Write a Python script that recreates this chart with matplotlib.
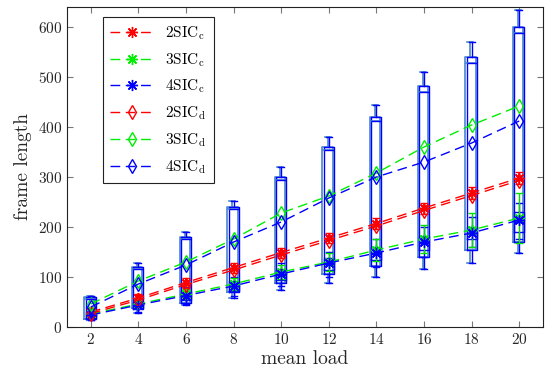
import numpy as np
import matplotlib
matplotlib.use('Agg')
import matplotlib.pyplot as plt

plt.rcParams['font.family'] = 'serif'
plt.rcParams['font.serif'] = ['cmr10', 'DejaVu Serif']
plt.rcParams['mathtext.fontset'] = 'cm'
plt.rcParams['axes.formatter.use_mathtext'] = True

# mean load values
loads = [2, 4, 6, 8, 10, 12, 14, 16, 18, 20]

# mean frame length per scheme
sic2_c = [30, 58, 89, 119, 149, 178, 207, 238, 268, 298]
sic3_c = [26, 46, 66, 86, 110, 130, 154, 176, 194, 218]
sic4_c = [24, 44, 63, 82, 106, 128, 148, 170, 188, 214]
sic2_d = [27, 54, 85, 114, 144, 173, 202, 233, 263, 293]
sic3_d = [46, 92, 130, 176, 228, 262, 308, 360, 404, 442]
sic4_d = [40, 86, 124, 170, 210, 258, 300, 330, 368, 412]

# spread of the frame length (outer boxes)
box_wlo = [14, 28, 44, 58, 74, 88, 100, 116, 128, 148]
box_q1 = [16, 38, 48, 70, 88, 106, 122, 140, 154, 170]
box_med = [57, 116, 176, 236, 294, 354, 412, 470, 528, 588]
box_q3 = [60, 120, 180, 240, 300, 360, 420, 482, 540, 600]
box_whi = [63, 128, 190, 252, 320, 380, 444, 510, 570, 634]

# spread of the centralized schemes (inner boxes)
inner_q1 = [18, 36, 54, 72, 94, 114, 134, 154, 176, 190]
inner_q3 = [30, 50, 72, 92, 116, 138, 160, 182, 200, 230]
inner_wlo = [14, 30, 46, 62, 82, 100, 120, 140, 160, 176]
inner_whi = [36, 56, 80, 100, 128, 150, 176, 200, 220, 248]

# error bars
red_err = [8, 9, 10, 10, 10, 10, 11, 11, 12, 12]
green_err = [6, 8, 10, 12, 14, 18, 22, 28, 34, 50]

fig = plt.figure(figsize=(5.45, 3.75), dpi=100)
ax = fig.add_axes([67 / 545, 1 - 327 / 375, 476 / 545, 320 / 375])

outer = [dict(whislo=a, q1=b, med=c, q3=d, whishi=e)
         for a, b, c, d, e in zip(box_wlo, box_q1, box_med, box_q3, box_whi)]
inner = [dict(whislo=a, q1=b, med=(b + d) / 2, q3=d, whishi=e)
         for a, b, d, e in zip(inner_wlo, inner_q1, inner_q3, inner_whi)]

steel = '#4a88cc'
for stats, w, col, lw, dx in [(outer, 0.44, steel, 1.2, -0.05),
                              (outer, 0.42, 'b', 1.0, 0.0),
                              (inner, 0.42, 'b', 1.0, 0.0)]:
    ax.bxp(stats, positions=np.array(loads) + dx, widths=w, showfliers=False,
           manage_ticks=False,
           boxprops=dict(color=col, lw=lw),
           whiskerprops=dict(color=col, lw=lw, ls='-'),
           capprops=dict(color=col, lw=lw),
           medianprops=dict(color=col, lw=lw),
           capwidths=0.25)

ax.errorbar(loads, sic3_c, yerr=green_err, fmt='none', ecolor='#00e000',
            elinewidth=1, capsize=3)
ax.errorbar(loads, sic2_c, yerr=red_err, fmt='none', ecolor='r',
            elinewidth=1.2, capsize=3)

dash = (0, (7, 4))
ast = (8, 2, 0)
series = [
    (sic2_c, 'r', ast, 8, r'2SIC$_\mathrm{c}$'),
    (sic3_c, '#00ee00', ast, 8, r'3SIC$_\mathrm{c}$'),
    (sic4_c, 'b', ast, 8, r'4SIC$_\mathrm{c}$'),
    (sic2_d, 'r', 'd', 7, r'2SIC$_\mathrm{d}$'),
    (sic3_d, '#00ee00', 'd', 7, r'3SIC$_\mathrm{d}$'),
    (sic4_d, 'b', 'd', 7, r'4SIC$_\mathrm{d}$'),
]
for vals, col, mk, ms, lab in series:
    ax.plot(loads, vals, color=col, ls=dash, lw=1, marker=mk, ms=ms,
            mfc='none', mec=col, mew=1, label=lab)

ax.set_xlim(1, 21)
ax.set_ylim(0, 640)
ax.set_xticks(loads)
ax.set_yticks(range(0, 601, 100))
ax.tick_params(direction='in', top=True, right=True, labelsize=11,
               color='#777777', labelcolor='#262626', length=4)
ax.set_xlabel('mean load', fontsize=14, labelpad=2, color='#262626')
ax.set_ylabel('frame length', fontsize=14, labelpad=4, color='#262626')
for s in ax.spines.values():
    s.set_color('#222222')

leg = ax.legend(loc='upper left', bbox_to_anchor=(0.075, 0.97), fontsize=11,
                fancybox=False, edgecolor='#222222', framealpha=1,
                borderaxespad=0, handlelength=2.8, labelspacing=0.6,
                borderpad=0.5)
leg.get_frame().set_linewidth(0.8)

fig.savefig('out.png', dpi=100)
